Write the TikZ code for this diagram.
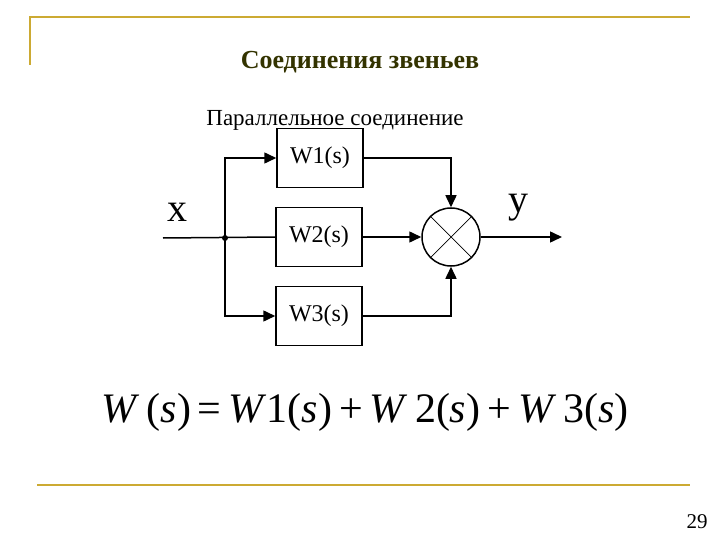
\documentclass[tikz,border=0pt]{standalone}
\usepackage{fontspec}
\setmainfont{Liberation Serif}
\usetikzlibrary{arrows.meta}
\definecolor{gold}{RGB}{204,170,51}
\definecolor{ttl}{RGB}{51,51,0}
\begin{document}
\begin{tikzpicture}[x=1pt,y=-1pt,
  blk/.style={draw,line width=1.5pt,minimum width=86pt,minimum height=59pt,inner sep=0pt,font=\fontsize{24}{24}\selectfont},
  ln/.style={line width=1.5pt},
  ar/.style={ln,-{Triangle[length=12pt,width=11pt]}}]
\useasboundingbox (0,0) rectangle (720,540);
\draw[gold,line width=1.5pt] (30,65) -- (30,17) -- (690,17);
\draw[gold,line width=1.5pt] (37,485) -- (690,485);
\node[ttl,font=\bfseries\fontsize{26}{26}\selectfont] (t) at (360,62) {Соединения звеньев};
\node[font=\fontsize{23}{23}\selectfont] (p) at (335,120) {Параллельное соединение};
\node[blk] (w1) at (320,158) {W1(s)};
\node[blk] (w2) at (319,237) {W2(s)};
\node[blk] (w3) at (319,316) {W3(s)};
\node[draw,circle,line width=1.5pt,minimum size=58pt,inner sep=0pt] (s) at (451,237) {};
\draw[line width=0.7pt] (s.north east) -- (s.south west) (s.north west) -- (s.south east);
\coordinate (in) at (163,238);
\coordinate (j) at (225,238);
\coordinate (out) at (562,237);
\fill (j) circle (3pt);
\draw[ln] (in) -- (w2.west);
\draw[ar] (j) |- (w1.west);
\draw[ar] (j) |- (w3.west);
\draw[ar] (w1.east) -| (s.north);
\draw[ar] (w3.east) -| (s.south);
\draw[ar] (w2.east) -- (s.west);
\draw[ar] (s.east) -- (out);
\node[font=\fontsize{40}{40}\selectfont] (x) at (177,212) {x};
\node[font=\fontsize{40}{40}\selectfont] (y) at (518,208) {y};
\node[font=\fontsize{42}{42}\selectfont] (f) at (365,412) {\textit{W}\,(\textit{s})\,=\,\textit{W}1(\textit{s})\,+\,\textit{W}\,2(\textit{s})\,+\,\textit{W}\,3(\textit{s})};
\node[font=\fontsize{21}{21}\selectfont] (n) at (697,522) {29};
\end{tikzpicture}
\end{document}
